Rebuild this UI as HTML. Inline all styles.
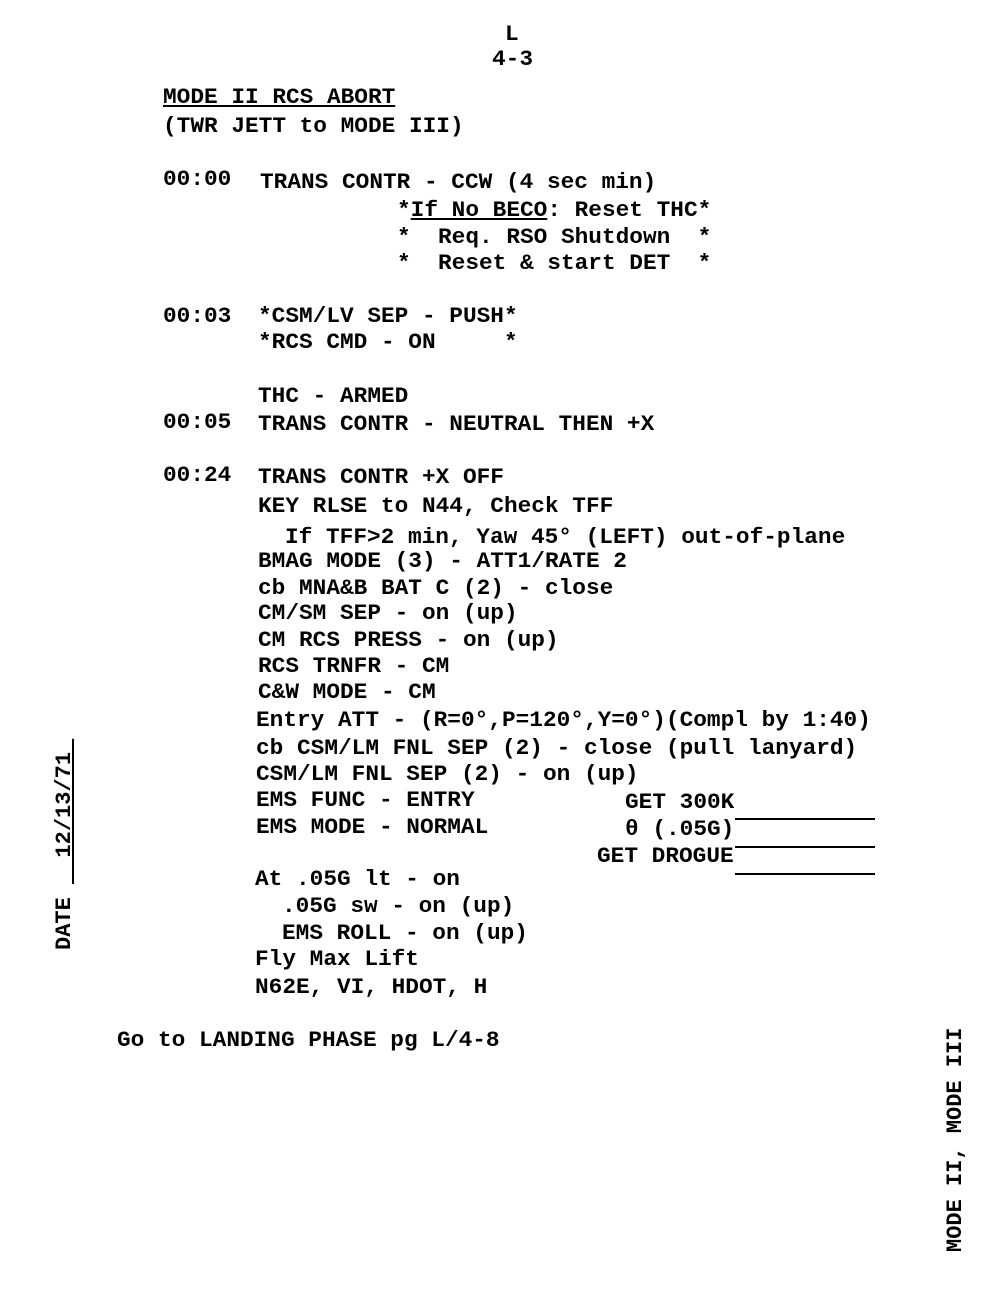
<!DOCTYPE html>
<html><head><style>
body{margin:0;width:1000px;height:1300px;background:#fff;position:relative;overflow:hidden}
.t{position:absolute;font-family:"Liberation Mono",monospace;font-weight:bold;font-size:22px;line-height:26px;white-space:pre;color:#000;transform:scaleX(1.035);transform-origin:left}
.u{text-decoration:underline}
.l{position:absolute;height:2px;background:#000}
.r{position:absolute;font-family:"Liberation Mono",monospace;font-weight:bold;font-size:22px;line-height:26px;white-space:pre;}
</style></head><body>
<div class="t" style="left:505px;top:22px">L</div>
<div class="t" style="left:492px;top:47px">4-3</div>
<div class="t u" style="left:163px;top:85px">MODE II RCS ABORT</div>
<div class="t" style="left:163px;top:114px">(TWR JETT to MODE III)</div>
<div class="t" style="left:163px;top:167px">00:00</div>
<div class="t" style="left:260px;top:170px">TRANS CONTR - CCW (4 sec min)</div>
<div class="t" style="left:397px;top:198px">*<span class="u">If No BECO</span>: Reset THC*</div>
<div class="t" style="left:397px;top:225px">*  Req. RSO Shutdown  *</div>
<div class="t" style="left:397px;top:251px">*  Reset &amp; start DET  *</div>
<div class="t" style="left:163px;top:304px">00:03</div>
<div class="t" style="left:258px;top:304px">*CSM/LV SEP - PUSH*</div>
<div class="t" style="left:258px;top:330px">*RCS CMD - ON     *</div>
<div class="t" style="left:258px;top:384px">THC - ARMED</div>
<div class="t" style="left:163px;top:410px">00:05</div>
<div class="t" style="left:258px;top:412px">TRANS CONTR - NEUTRAL THEN +X</div>
<div class="t" style="left:163px;top:463px">00:24</div>
<div class="t" style="left:258px;top:465px">TRANS CONTR +X OFF</div>
<div class="t" style="left:258px;top:494px">KEY RLSE to N44, Check TFF</div>
<div class="t" style="left:285px;top:525px">If TFF&gt;2 min, Yaw 45° (LEFT) out-of-plane</div>
<div class="t" style="left:258px;top:549px">BMAG MODE (3) - ATT1/RATE 2</div>
<div class="t" style="left:258px;top:576px">cb MNA&amp;B BAT C (2) - close</div>
<div class="t" style="left:258px;top:601px">CM/SM SEP - on (up)</div>
<div class="t" style="left:258px;top:628px">CM RCS PRESS - on (up)</div>
<div class="t" style="left:258px;top:654px">RCS TRNFR - CM</div>
<div class="t" style="left:258px;top:680px">C&amp;W MODE - CM</div>
<div class="t" style="left:256px;top:708px">Entry ATT - (R=0°,P=120°,Y=0°)(Compl by 1:40)</div>
<div class="t" style="left:256px;top:736px">cb CSM/LM FNL SEP (2) - close (pull lanyard)</div>
<div class="t" style="left:256px;top:762px">CSM/LM FNL SEP (2) - on (up)</div>
<div class="t" style="left:256px;top:788px">EMS FUNC - ENTRY</div>
<div class="t" style="left:625px;top:790px">GET 300K</div>
<div class="l" style="left:735px;top:818px;width:140px"></div>
<div class="t" style="left:256px;top:815px">EMS MODE - NORMAL</div>
<div class="t" style="left:625px;top:817px">θ (.05G)</div>
<div class="l" style="left:735px;top:846px;width:140px"></div>
<div class="t" style="left:597px;top:844px">GET DROGUE</div>
<div class="l" style="left:735px;top:873px;width:140px"></div>
<div class="t" style="left:255px;top:867px">At .05G lt - on</div>
<div class="t" style="left:282px;top:894px">.05G sw - on (up)</div>
<div class="t" style="left:282px;top:921px">EMS ROLL - on (up)</div>
<div class="t" style="left:255px;top:947px">Fly Max Lift</div>
<div class="t" style="left:255px;top:975px">N62E, VI, HDOT, H</div>
<div class="t" style="left:117px;top:1028px">Go to LANDING PHASE pg L/4-8</div>
<div class="r" style="left:52px;top:950px;transform:rotate(-90deg);transform-origin:left top">DATE <span class="u">  12/13/71 </span></div>
<div class="r" style="left:943px;top:1252px;transform:rotate(-90deg);transform-origin:left top">MODE II, MODE III</div>
</body></html>
